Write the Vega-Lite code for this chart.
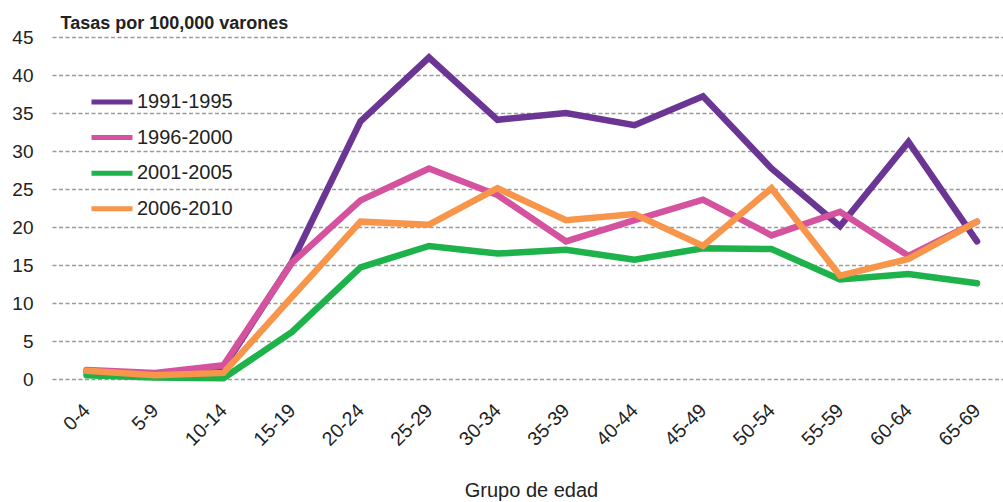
{
  "$schema": "https://vega.github.io/schema/vega-lite/v6.json",
  "autosize": "none",
  "width": 951,
  "height": 342,
  "padding": {"left": 52, "top": 37, "right": 0, "bottom": 123},
  "background": "white",
  "config": {
    "view": {"stroke": null},
    "font": "Liberation Sans"
  },
  "data": {
    "values": [
      {"grupo": "0-4", "periodo": "1991-1995", "tasa": 1.0},
      {"grupo": "5-9", "periodo": "1991-1995", "tasa": 0.5},
      {"grupo": "10-14", "periodo": "1991-1995", "tasa": 1.5},
      {"grupo": "15-19", "periodo": "1991-1995", "tasa": 15.4},
      {"grupo": "20-24", "periodo": "1991-1995", "tasa": 33.9},
      {"grupo": "25-29", "periodo": "1991-1995", "tasa": 42.3},
      {"grupo": "30-34", "periodo": "1991-1995", "tasa": 34.1},
      {"grupo": "35-39", "periodo": "1991-1995", "tasa": 35.0},
      {"grupo": "40-44", "periodo": "1991-1995", "tasa": 33.4},
      {"grupo": "45-49", "periodo": "1991-1995", "tasa": 37.2},
      {"grupo": "50-54", "periodo": "1991-1995", "tasa": 27.7},
      {"grupo": "55-59", "periodo": "1991-1995", "tasa": 20.1},
      {"grupo": "60-64", "periodo": "1991-1995", "tasa": 31.2},
      {"grupo": "65-69", "periodo": "1991-1995", "tasa": 18.1},
      {"grupo": "0-4", "periodo": "1996-2000", "tasa": 1.2},
      {"grupo": "5-9", "periodo": "1996-2000", "tasa": 0.8},
      {"grupo": "10-14", "periodo": "1996-2000", "tasa": 1.8},
      {"grupo": "15-19", "periodo": "1996-2000", "tasa": 15.3},
      {"grupo": "20-24", "periodo": "1996-2000", "tasa": 23.5},
      {"grupo": "25-29", "periodo": "1996-2000", "tasa": 27.7},
      {"grupo": "30-34", "periodo": "1996-2000", "tasa": 24.2},
      {"grupo": "35-39", "periodo": "1996-2000", "tasa": 18.1},
      {"grupo": "40-44", "periodo": "1996-2000", "tasa": 20.9},
      {"grupo": "45-49", "periodo": "1996-2000", "tasa": 23.6},
      {"grupo": "50-54", "periodo": "1996-2000", "tasa": 18.9},
      {"grupo": "55-59", "periodo": "1996-2000", "tasa": 22.0},
      {"grupo": "60-64", "periodo": "1996-2000", "tasa": 16.2},
      {"grupo": "65-69", "periodo": "1996-2000", "tasa": 20.7},
      {"grupo": "0-4", "periodo": "2001-2005", "tasa": 0.5},
      {"grupo": "5-9", "periodo": "2001-2005", "tasa": 0.2},
      {"grupo": "10-14", "periodo": "2001-2005", "tasa": 0.1},
      {"grupo": "15-19", "periodo": "2001-2005", "tasa": 6.2},
      {"grupo": "20-24", "periodo": "2001-2005", "tasa": 14.7},
      {"grupo": "25-29", "periodo": "2001-2005", "tasa": 17.5},
      {"grupo": "30-34", "periodo": "2001-2005", "tasa": 16.5},
      {"grupo": "35-39", "periodo": "2001-2005", "tasa": 17.0},
      {"grupo": "40-44", "periodo": "2001-2005", "tasa": 15.7},
      {"grupo": "45-49", "periodo": "2001-2005", "tasa": 17.2},
      {"grupo": "50-54", "periodo": "2001-2005", "tasa": 17.1},
      {"grupo": "55-59", "periodo": "2001-2005", "tasa": 13.1},
      {"grupo": "60-64", "periodo": "2001-2005", "tasa": 13.8},
      {"grupo": "65-69", "periodo": "2001-2005", "tasa": 12.6},
      {"grupo": "0-4", "periodo": "2006-2010", "tasa": 1.1},
      {"grupo": "5-9", "periodo": "2006-2010", "tasa": 0.5},
      {"grupo": "10-14", "periodo": "2006-2010", "tasa": 0.8},
      {"grupo": "15-19", "periodo": "2006-2010", "tasa": 10.8},
      {"grupo": "20-24", "periodo": "2006-2010", "tasa": 20.7},
      {"grupo": "25-29", "periodo": "2006-2010", "tasa": 20.3},
      {"grupo": "30-34", "periodo": "2006-2010", "tasa": 25.1},
      {"grupo": "35-39", "periodo": "2006-2010", "tasa": 20.9},
      {"grupo": "40-44", "periodo": "2006-2010", "tasa": 21.7},
      {"grupo": "45-49", "periodo": "2006-2010", "tasa": 17.5},
      {"grupo": "50-54", "periodo": "2006-2010", "tasa": 25.1},
      {"grupo": "55-59", "periodo": "2006-2010", "tasa": 13.6},
      {"grupo": "60-64", "periodo": "2006-2010", "tasa": 15.8},
      {"grupo": "65-69", "periodo": "2006-2010", "tasa": 20.7}
    ]
  },
  "mark": {"type": "line", "strokeWidth": 6.5, "strokeCap": "round", "strokeJoin": "miter"},
  "encoding": {
    "x": {
      "field": "grupo",
      "type": "ordinal",
      "sort": ["0-4", "5-9", "10-14", "15-19", "20-24", "25-29", "30-34", "35-39", "40-44", "45-49", "50-54", "55-59", "60-64", "65-69"],
      "scale": {"type": "point", "padding": 0.4416, "align": 0.57},
      "axis": {
        "title": "Grupo de edad",
        "titleFont": "Liberation Sans",
        "titleFontSize": 20,
        "titleFontWeight": "normal",
        "titleColor": "#222222",
        "titleBaseline": "alphabetic",
        "titleX": 479,
        "titleY": 117,
        "labelAngle": -45,
        "labelAlign": "right",
        "labelBaseline": "middle",
        "labelPadding": 28,
        "labelFontSize": 19.5,
        "labelColor": "#222222",
        "labelFont": "Liberation Sans",
        "ticks": false,
        "domain": false,
        "grid": false
      }
    },
    "y": {
      "field": "tasa",
      "type": "quantitative",
      "scale": {"domain": [0, 45], "nice": false},
      "axis": {
        "title": "Tasas por 100,000 varones",
        "titleAngle": 0,
        "titleAlign": "left",
        "titleBaseline": "alphabetic",
        "titleX": 8,
        "titleY": -9,
        "titleFont": "Liberation Sans",
        "titleFontSize": 18,
        "titleFontWeight": "bold",
        "titleColor": "#222222",
        "values": [0, 5, 10, 15, 20, 25, 30, 35, 40, 45],
        "labelFontSize": 19,
        "labelColor": "#222222",
        "labelFont": "Liberation Sans",
        "labelPadding": 19,
        "ticks": false,
        "domain": false,
        "grid": true,
        "gridColor": "#9a9a9a",
        "gridDash": [4, 2.5],
        "gridWidth": 1.3
      }
    },
    "color": {
      "field": "periodo",
      "type": "nominal",
      "scale": {
        "domain": ["1991-1995", "1996-2000", "2001-2005", "2006-2010"],
        "range": ["#6b3594", "#d4529e", "#1eb24b", "#f7964a"]
      },
      "legend": {
        "title": null,
        "orient": "none",
        "legendX": 37,
        "legendY": 42,
        "symbolType": "stroke",
        "symbolSize": 1681,
        "symbolStrokeWidth": 5,
        "labelFontSize": 20,
        "labelColor": "#222222",
        "labelFont": "Liberation Sans",
        "labelOffset": 2,
        "rowPadding": 2.6
      }
    }
  }
}
